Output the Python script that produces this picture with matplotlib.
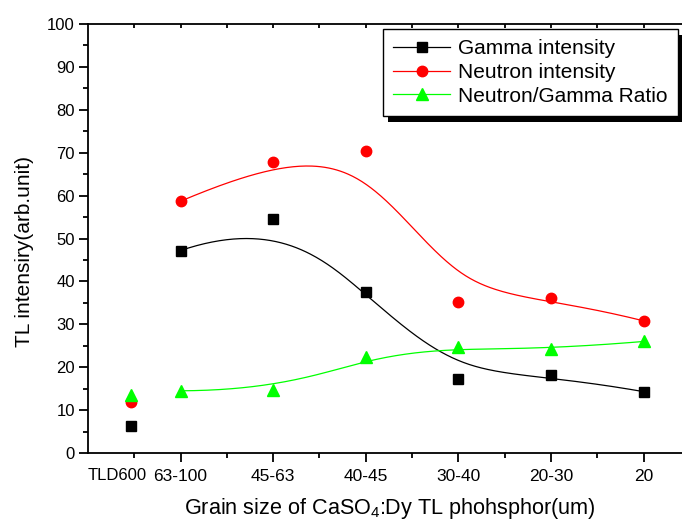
import numpy as np
import matplotlib
matplotlib.use("Agg")
import matplotlib.pyplot as plt
from matplotlib.patches import Rectangle

plt.rcParams['font.family'] = ['Liberation Sans', 'DejaVu Sans']
plt.rcParams['mathtext.fontset'] = 'custom'
plt.rcParams['mathtext.rm'] = 'Liberation Sans'
plt.rcParams['mathtext.it'] = 'Liberation Sans:italic'

# grain size categories (positions 1..6), TLD600 reference sits left of them
categories = ['63-100', '45-63', '40-45', '30-40', '20-30', '20']
ref_label = 'TLD600'

gamma = [47.2, 54.5, 37.6, 17.3, 18.1, 14.3]
neutron = [58.7, 67.8, 70.3, 35.1, 36.2, 30.8]
ratio = [14.5, 14.6, 22.4, 24.6, 24.2, 26.0]

gamma_ref = 6.3
neutron_ref = 11.8
ratio_ref = 13.6


def bspline(xs, ys, n=300):
    # clamped cubic B-spline with the data points as control points
    P = np.column_stack([xs, ys]).astype(float)
    m = len(P)
    k = 3
    knots = np.concatenate([np.zeros(k), np.arange(m - k + 1), np.full(k, m - k)]).astype(float)
    t = np.linspace(0, m - k, n)
    t[-1] -= 1e-9

    def basis(i, d, t):
        if d == 0:
            return ((knots[i] <= t) & (t < knots[i + 1])).astype(float)
        a = 0.0
        b = 0.0
        if knots[i + d] != knots[i]:
            a = (t - knots[i]) / (knots[i + d] - knots[i]) * basis(i, d - 1, t)
        if knots[i + d + 1] != knots[i + 1]:
            b = (knots[i + d + 1] - t) / (knots[i + d + 1] - knots[i + 1]) * basis(i + 1, d - 1, t)
        return a + b

    B = np.array([basis(i, k, t) for i in range(m)])
    curve = B.T @ P
    return curve[:, 0], curve[:, 1]


fig = plt.figure(figsize=(6.82, 5.20), dpi=100)
W, H = 682, 520
x0, y0, y1 = 88, 453, 24
unit = 92.6
ax = fig.add_axes([x0 / W, (H - y0) / H, 7 * unit / W, (y0 - y1) / H])
ax.set_facecolor('none')

pos = np.arange(1, len(categories) + 1)
ref_pos = 0.46

series = [
    (gamma, gamma_ref, 'black', 's', 7, 'Gamma intensity'),
    (neutron, neutron_ref, 'red', 'o', 7.5, 'Neutron intensity'),
    (ratio, ratio_ref, '#00ff00', '^', 8.5, 'Neutron/Gamma Ratio'),
]
handles = []
for vals, ref, col, mk, ms, lab in series:
    cx, cy = bspline(pos, vals)
    ax.plot(cx, cy, color=col, lw=0.9, zorder=2)
    ax.plot(pos, vals, ls='none', marker=mk, ms=ms, color=col, mec=col, zorder=3, clip_on=False)
    ax.plot([ref_pos], [ref], ls='none', marker=mk, ms=ms, color=col, mec=col, zorder=3)
    h, = ax.plot([], [], color=col, lw=0.9, marker=mk, ms=ms, mec=col, label=lab)
    handles.append(h)

ax.set_xlim(0, 7)
ax.set_ylim(0, 100)
ax.set_yticks(np.arange(0, 101, 10))
ax.set_yticks(np.arange(0, 101, 5), minor=True)
ax.set_xticks(pos)
ax.set_xticklabels(categories)
ax.set_xticks(np.arange(0.5, 7, 1), minor=True)

for s in ax.spines.values():
    s.set_linewidth(1.3)

ax.tick_params(axis='both', which='major', labelsize=12, width=1.3, length=6.5, direction='out', pad=3)
ax.tick_params(axis='both', which='minor', width=1.3, length=3.5, direction='out')
ax.tick_params(axis='x', which='major', labelsize=12.5, pad=5)
ax.xaxis.set_tick_params(which='both', top=True, labeltop=False)
for t in ax.xaxis.get_major_ticks() + ax.xaxis.get_minor_ticks():
    t.tick2line.set_marker(3)
    t.tick2line.set_markersize(3)

ax.text(0.32, -0.035, ref_label, transform=ax.get_xaxis_transform(),
        ha='center', va='top', fontsize=12)

ax.set_xlabel('Grain size of CaSO$_4$:Dy TL phohsphor(um)', fontsize=15.6)
ax.xaxis.set_label_coords((390 - x0) / (7 * unit), -0.101)
ax.set_ylabel('TL intensiry(arb.unit)', fontsize=15)
ax.yaxis.set_label_coords((34 - x0) / (7 * unit), 0.469)

leg = ax.legend(handles=handles, loc='upper right', fontsize=15,
                bbox_to_anchor=(678 / W, (H - 29) / H), bbox_transform=fig.transFigure,
                borderaxespad=0, frameon=True, fancybox=False, numpoints=1, framealpha=1,
                handlelength=2.7, handletextpad=0.4, labelspacing=0.22, borderpad=0.5)
leg.get_frame().set_edgecolor('black')
leg.get_frame().set_facecolor('white')
leg.get_frame().set_linewidth(1.0)
leg.set_zorder(5)

fig.canvas.draw()
bb = leg.get_window_extent()
fig.patches.append(Rectangle((bb.x0 + 5, bb.y0 - 6), bb.width, bb.height,
                             transform=None, facecolor='black', edgecolor='none', zorder=-1))

fig.savefig('out.png', dpi=100)
